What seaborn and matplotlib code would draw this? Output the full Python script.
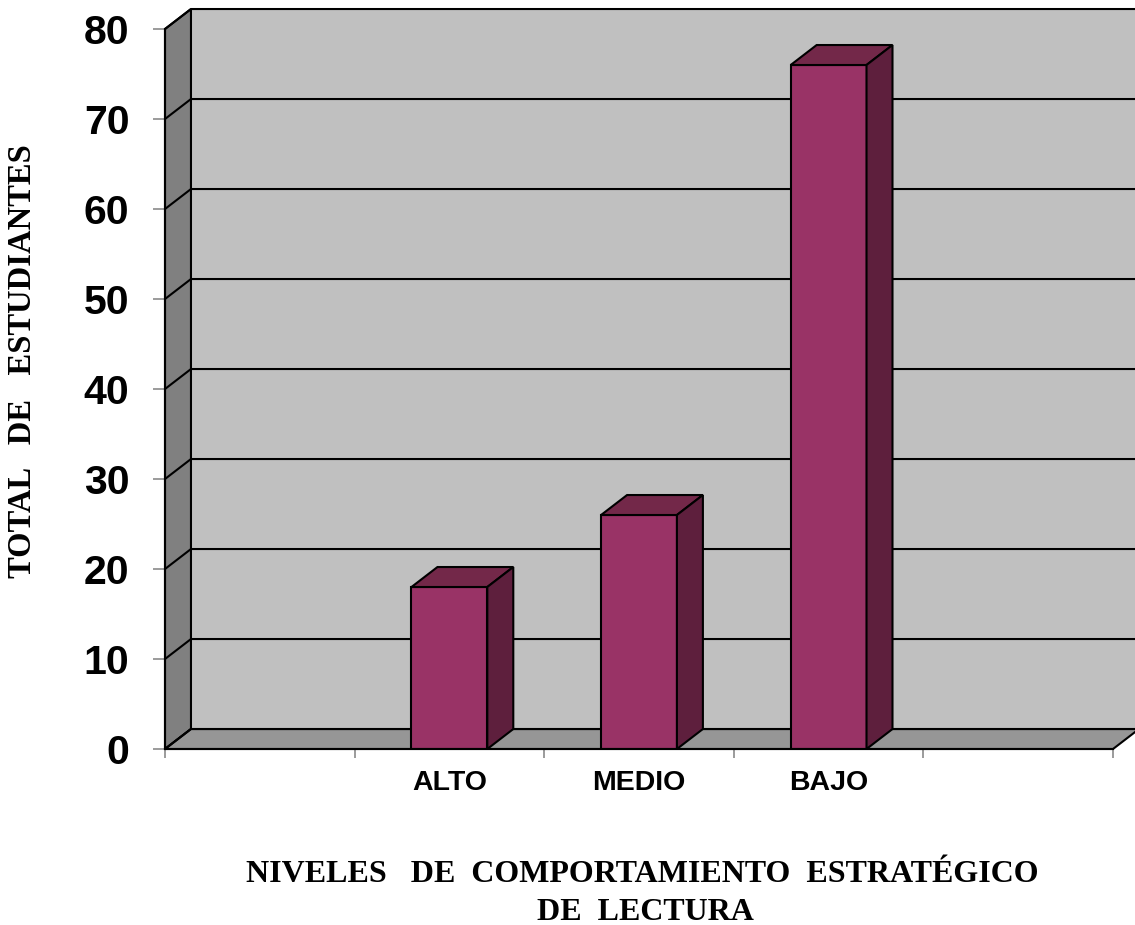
"""
Niveles de comportamiento estrategico de lectura - 3D style column chart
"""

import matplotlib
matplotlib.use("Agg")

import matplotlib.pyplot as plt
import numpy as np
import pandas as pd
import seaborn as sns
from matplotlib.patches import Polygon

# data
categories = ["ALTO", "MEDIO", "BAJO"]
students = [18, 26, 76]
y_ticks = [0, 10, 20, 30, 40, 50, 60, 70, 80]

df = pd.DataFrame({"nivel": categories, "total": students})

sns.set_theme(style="white")
plt.rcParams["font.family"] = ["Liberation Sans", "DejaVu Sans"]
plt.rcParams["text.color"] = "black"
plt.rcParams["xtick.labelcolor"] = "black"
plt.rcParams["ytick.labelcolor"] = "black"

W, H = 1135, 925
fig = plt.figure(figsize=(W / 100, H / 100), dpi=100)
ax = fig.add_axes([165 / W, 1 - 749 / H, 948 / W, 720 / H])

sns.barplot(data=df, x="nivel", y="total", order=categories, width=0.4,
            color="#993366", saturation=1, edgecolor="black", linewidth=1.5,
            ax=ax, zorder=3)

x0, x1 = -1.5, 3.5
y0, y1 = 0, 80
ax.set_xlim(x0, x1)
ax.set_ylim(y0, y1)

# depth of the fake 3D box, in data units
dx, dy = 0.137, 2.22

# walls and floor
ax.add_patch(Polygon([(x0 + dx, y0 + dy), (x1 + dx, y0 + dy), (x1 + dx, y1 + dy), (x0 + dx, y1 + dy)],
                     closed=True, facecolor="#c0c0c0", edgecolor="none", zorder=0.5, clip_on=False))
ax.add_patch(Polygon([(x0, y0), (x0, y1), (x0 + dx, y1 + dy), (x0 + dx, y0 + dy)],
                     closed=True, facecolor="#808080", edgecolor="black", linewidth=1.5,
                     zorder=0.6, clip_on=False))
ax.add_patch(Polygon([(x0, y0), (x1, y0), (x1 + dx, y0 + dy), (x0 + dx, y0 + dy)],
                     closed=True, facecolor="#969696", edgecolor="black", linewidth=1.5,
                     zorder=0.6, clip_on=False))

# grid lines on the left wall and back wall
for v in y_ticks:
    ax.plot([x0, x0 + dx, x1 + dx + 0.05], [v, v + dy, v + dy], color="black",
            linewidth=1.5, zorder=1, clip_on=False, solid_capstyle="butt")

# top and side faces of the columns
for bar in ax.patches[:]:
    if not isinstance(bar, matplotlib.patches.Rectangle):
        continue
    bx, bw, bh = bar.get_x(), bar.get_width(), bar.get_height()
    top = [(bx, bh), (bx + dx, bh + dy), (bx + bw + dx, bh + dy), (bx + bw, bh)]
    side = [(bx + bw, 0), (bx + bw + dx, dy), (bx + bw + dx, bh + dy), (bx + bw, bh)]
    ax.add_patch(Polygon(top, closed=True, facecolor="#732849", edgecolor="black",
                         linewidth=1.5, zorder=3, clip_on=False))
    ax.add_patch(Polygon(side, closed=True, facecolor="#5e1f3d", edgecolor="black",
                         linewidth=1.5, zorder=3, clip_on=False))

ax.set_facecolor("none")
for s in ["top", "right"]:
    ax.spines[s].set_visible(False)
for s in ["left", "bottom"]:
    ax.spines[s].set_color("black")
    ax.spines[s].set_linewidth(1.5)
    ax.spines[s].set_zorder(4)

ax.set_yticks(y_ticks)
ax.set_yticklabels([str(t) for t in y_ticks], fontsize=29.5, fontweight="bold")
ax.tick_params(axis="y", left=True, length=8.6, width=1.1, color="#808080", pad=17)

ax.set_xticks(range(len(categories)))
ax.set_xticklabels(categories, fontsize=20.5, fontweight="bold")
ax.set_xticks(np.arange(x0, x1 + 0.5, 1), minor=True)
ax.tick_params(axis="x", which="major", length=0, pad=15)
ax.tick_params(axis="x", which="minor", bottom=True, length=6.5, width=1.1, color="#808080")

ax.set_xlabel("")
ax.set_ylabel("")

serif = ["Liberation Serif", "DejaVu Serif"]
fig.text(23 / W, 1 - 361 / H, "TOTAL   DE   ESTUDIANTES", rotation=90, ha="center", va="center",
         fontsize=23.5, fontweight="bold", family=serif)
fig.text(642 / W, 1 - 874.5 / H, "NIVELES   DE  COMPORTAMIENTO  ESTRATÉGICO", ha="center",
         va="center", fontsize=23, fontweight="bold", family=serif)
fig.text(645 / W, 1 - 912.5 / H, "DE  LECTURA", ha="center", va="center",
         fontsize=23, fontweight="bold", family=serif)

fig.savefig("out.png", dpi=100)
plt.close(fig)
